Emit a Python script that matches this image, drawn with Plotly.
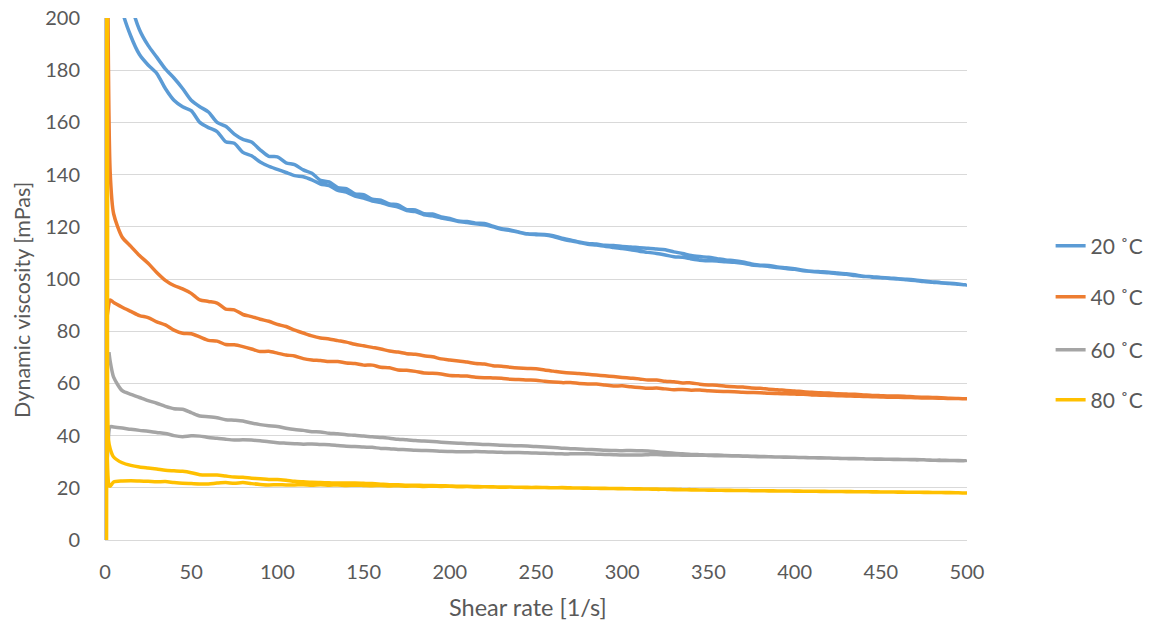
import plotly.graph_objects as go

# Shared shear-rate grid [1/s]
shear_grid = [3, 5,
              10, 15, 20, 25, 30, 35, 40, 45, 50, 55,
              60, 65, 70, 75, 80, 85, 90, 95, 100, 105,
              110, 115, 120, 125, 130, 135, 140, 145, 150, 155,
              160, 165, 170, 175, 180, 185, 190, 195, 200, 205,
              210, 215, 220, 225, 230, 235, 240, 245, 250, 255,
              260, 265, 270, 275, 280, 285, 290, 295, 300, 305,
              310, 315, 320, 325, 330, 335, 340, 345, 350, 355,
              360, 365, 370, 375, 380, 385, 390, 395, 400, 405,
              410, 415, 420, 425, 430, 435, 440, 445, 450, 455,
              460, 465, 470, 475, 480, 485, 490, 495, 500]

series_names = ["20 ˚C", "40 ˚C", "60 ˚C", "80 ˚C"]
series_colors = ["#5B9BD5", "#ED7D31", "#A5A5A5", "#FFC000"]

# ---- 20 C ----
visc_20_up = [272, 243,
              203, 193, 186, 182, 178.8, 173, 168.5, 166, 164.5, 160,
              158, 156.5, 152.6, 152, 148.5, 147.2, 144.8, 143.2, 142, 140.8,
              139.6, 139.2, 138.0, 136.4, 135.8, 134.0, 133.3, 131.8, 131.0, 129.9,
              129.3, 128.2, 127.6, 126.2, 125.8, 124.6, 124.2, 123.4, 122.8, 122.0,
              121.6, 121.2, 120.8, 120.0, 119.0, 118.6, 117.9, 117.2, 117.0, 116.9,
              116.3, 115.3, 114.6, 114.0, 113.3, 113.0, 112.5, 112.1, 111.7, 111.2,
              110.6, 110.2, 109.8, 109.2, 108.5, 108.3, 107.7, 107.2, 107.0, 106.9,
              106.6, 106.4, 106.0, 105.4, 105.1, 104.8, 104.4, 104.0, 103.7, 103.2,
              102.9, 102.6, 102.4, 102.0, 101.8, 101.3, 101.0, 100.7, 100.5, 100.2,
              100.0, 99.7, 99.4, 99.0, 98.8, 98.5, 98.3, 98.0, 97.7]
visc_20_down = [300, 262,
                226, 206, 195.5, 189.5, 185, 180.5, 177, 173, 168.5, 166,
                164, 160, 158.5, 155.5, 153.5, 152.5, 149.5, 147, 146.8, 144.5,
                143.8, 141.8, 140.5, 137.8, 137.2, 135.0, 134.6, 132.6, 132.3, 130.6,
                130.2, 128.8, 128.4, 126.6, 126.5, 125.0, 124.9, 123.8, 123.2, 122.2,
                122.0, 121.4, 121.3, 120.2, 119.3, 118.8, 118.0, 117.3, 117.2, 117.1,
                116.6, 115.6, 115.0, 114.2, 113.6, 113.4, 112.9, 112.8, 112.5, 112.3,
                112.0, 111.8, 111.5, 111.2, 110.4, 109.8, 109.0, 108.6, 108.3, 107.8,
                107.3, 107.0, 106.5, 105.8, 105.3, 105.2, 104.6, 104.3, 103.9, 103.4,
                103.0, 102.8, 102.6, 102.3, 102.0, 101.6, 101.1, 100.9, 100.6, 100.4,
                100.1, 99.9, 99.6, 99.2, 98.9, 98.6, 98.4, 98.1, 97.8]
lead_20_x, lead_20_y = [], []
tail_20_x, tail_20_y = [], []

# ---- 40 C ----
visc_40_up = [92, 91,
              89.2, 87.6, 86, 85.2, 83.6, 82.4, 80.4, 79.2, 79.0, 77.8,
              76.5, 76.2, 74.9, 74.8, 74.1, 73.2, 72.2, 72.3, 71.6, 70.9,
              70.5, 69.5, 69.0, 68.8, 68.4, 68.4, 67.8, 67.6, 67.0, 67.0,
              66.2, 66.0, 65.1, 65.0, 64.6, 64.0, 63.9, 63.6, 63.0, 62.9,
              62.8, 62.4, 62.2, 62.1, 62.0, 61.6, 61.5, 61.3, 61.2, 60.8,
              60.5, 60.3, 60.3, 60.0, 59.8, 59.8, 59.4, 59.0, 59.1, 58.7,
              58.4, 58.1, 58.2, 57.9, 57.6, 57.7, 57.4, 57.5, 57.2, 57.0,
              56.9, 56.8, 56.6, 56.5, 56.4, 56.2, 56.1, 56.0, 55.9, 55.8,
              55.6, 55.5, 55.4, 55.3, 55.2, 55.1, 55.0, 54.9, 54.8, 54.7,
              54.7, 54.6, 54.5, 54.4, 54.4, 54.3, 54.2, 54.2, 54.1]
visc_40_down = [141, 125,
                116, 112.5, 109, 106, 102.5, 99.5, 97.5, 96.2, 94.5, 92,
                91.4, 90.8, 88.5, 88.2, 86.4, 85.6, 84.6, 83.8, 82.6, 81.8,
                80.4, 79.3, 78.2, 77.4, 77.0, 76.4, 75.8, 75.0, 74.4, 73.8,
                73.2, 72.4, 72.0, 71.4, 71.2, 70.6, 70.2, 69.4, 69.0, 68.6,
                68.2, 67.6, 67.4, 66.8, 66.6, 66.2, 65.9, 65.7, 65.6, 65.1,
                64.7, 64.3, 64.0, 63.8, 63.5, 63.2, 62.9, 62.6, 62.3, 62.0,
                61.7, 61.3, 61.3, 60.8, 60.6, 60.2, 60.2, 59.7, 59.4, 59.3,
                58.9, 58.7, 58.6, 58.2, 58.1, 57.8, 57.6, 57.3, 57.1, 56.8,
                56.6, 56.4, 56.3, 56.0, 55.9, 55.8, 55.6, 55.4, 55.3, 55.2,
                55.2, 55.0, 54.8, 54.7, 54.6, 54.5, 54.3, 54.2, 54.1]
lead_40_x, lead_40_y = [0.0, 1.5], [78.5, 87.0]
tail_40_x, tail_40_y = [1.4], [240.0]

# ---- 60 C ----
visc_60_up = [43.4, 43.3,
              42.9, 42.4, 42.0, 41.7, 41.2, 40.8, 40.0, 39.6, 39.9, 39.8,
              39.3, 39.0, 38.6, 38.3, 38.4, 38.3, 38.0, 37.6, 37.3, 37.1,
              36.9, 36.7, 36.8, 36.6, 36.5, 36.2, 35.9, 35.8, 35.6, 35.5,
              35.1, 35.0, 34.7, 34.6, 34.4, 34.3, 34.2, 34.0, 33.9, 33.8,
              33.8, 33.9, 33.8, 33.7, 33.6, 33.5, 33.5, 33.4, 33.3, 33.2,
              33.1, 33.0, 33.0, 33.0, 33.0, 32.9, 32.8, 32.7, 32.6, 32.6,
              32.6, 32.7, 32.8, 32.6, 32.6, 32.5, 32.5, 32.5, 32.4, 32.3,
              32.3, 32.2, 32.1, 32.0, 31.9, 31.9, 31.8, 31.7, 31.7, 31.6,
              31.5, 31.4, 31.4, 31.3, 31.2, 31.1, 31.1, 31.0, 30.9, 30.9,
              30.8, 30.8, 30.7, 30.7, 30.6, 30.5, 30.5, 30.4, 30.4]
visc_60_down = [68.5, 62.4,
                57.2, 55.8, 54.6, 53.4, 52.4, 51.2, 50.3, 50.1, 48.8, 47.5,
                47.2, 46.8, 46.1, 45.9, 45.6, 44.8, 44.2, 43.8, 43.5, 42.8,
                42.3, 42.0, 41.5, 41.4, 40.9, 40.7, 40.3, 40.1, 39.8, 39.6,
                39.3, 39.0, 38.6, 38.4, 38.1, 37.9, 37.7, 37.5, 37.3, 37.1,
                36.9, 36.8, 36.6, 36.5, 36.3, 36.2, 36.1, 36.0, 35.8, 35.6,
                35.4, 35.2, 35.0, 34.9, 34.7, 34.6, 34.4, 34.3, 34.2, 34.3,
                34.2, 34.1, 33.8, 33.5, 33.2, 33.0, 32.8, 32.7, 32.6, 32.6,
                32.4, 32.3, 32.2, 32.1, 32.0, 31.9, 31.8, 31.8, 31.7, 31.6,
                31.5, 31.5, 31.4, 31.3, 31.2, 31.2, 31.1, 31.0, 31.0, 30.9,
                30.9, 30.8, 30.8, 30.7, 30.6, 30.6, 30.5, 30.5, 30.4]
lead_60_x, lead_60_y = [0.0, 1.5], [17.2, 33.0]
tail_60_x, tail_60_y = [2.3], [72.0]

# ---- 80 C ----
visc_80_up = [20.6, 22.2,
              22.6, 22.7, 22.6, 22.5, 22.3, 22.4, 22.0, 21.7, 21.6, 21.5,
              21.5, 21.8, 22.0, 21.7, 22.0, 21.6, 21.3, 21.1, 21.2, 21.1,
              21.1, 21.2, 21.0, 21.2, 21.0, 21.1, 20.9, 21.0, 20.9, 20.8,
              20.9, 20.7, 20.8, 20.6, 20.7, 20.5, 20.6, 20.5, 20.6, 20.4,
              20.5, 20.3, 20.4, 20.3, 20.2, 20.3, 20.2, 20.1, 20.2, 20.1,
              20.0, 20.1, 20.0, 19.9, 19.9, 19.8, 19.8, 19.7, 19.7, 19.6,
              19.6, 19.5, 19.5, 19.4, 19.4, 19.3, 19.3, 19.2, 19.2, 19.1,
              19.1, 19.0, 19.0, 18.9, 18.9, 18.9, 18.8, 18.8, 18.8, 18.7,
              18.7, 18.7, 18.6, 18.6, 18.6, 18.5, 18.5, 18.5, 18.4, 18.4,
              18.4, 18.3, 18.3, 18.3, 18.2, 18.2, 18.2, 18.1, 18.0]
visc_80_down = [35.0, 31.8,
                29.6, 28.6, 28.0, 27.6, 27.2, 26.7, 26.5, 26.3, 25.8, 25.0,
                24.9, 24.9, 24.5, 24.1, 24.0, 23.7, 23.5, 23.2, 23.2, 22.9,
                22.5, 22.3, 22.1, 22.0, 21.9, 21.8, 21.8, 21.8, 21.7, 21.6,
                21.4, 21.2, 21.2, 21.0, 21.0, 20.9, 20.9, 20.8, 20.7, 20.6,
                20.6, 20.5, 20.4, 20.4, 20.3, 20.3, 20.2, 20.2, 20.1, 20.1,
                20.0, 20.0, 19.9, 19.9, 19.8, 19.8, 19.7, 19.7, 19.6, 19.6,
                19.5, 19.5, 19.4, 19.4, 19.3, 19.3, 19.2, 19.2, 19.1, 19.1,
                19.0, 19.0, 19.0, 18.9, 18.9, 18.8, 18.8, 18.8, 18.7, 18.7,
                18.7, 18.6, 18.6, 18.6, 18.5, 18.5, 18.5, 18.4, 18.4, 18.4,
                18.3, 18.3, 18.3, 18.2, 18.2, 18.2, 18.1, 18.1, 18.0]
lead_80_x, lead_80_y = [0.9, 1.2, 1.5, 2.3], [0.0, 150.0, 300.0, 21.0]
tail_80_x, tail_80_y = [2.0, 1.5, 1.3], [38.5, 120.0, 260.0]

x_ticks = [0, 50, 100, 150, 200, 250, 300, 350, 400, 450, 500]
y_ticks = [0, 20, 40, 60, 80, 100, 120, 140, 160, 180, 200]

ups = [visc_20_up, visc_40_up, visc_60_up, visc_80_up]
downs = [visc_20_down, visc_40_down, visc_60_down, visc_80_down]
leads = [(lead_20_x, lead_20_y), (lead_40_x, lead_40_y), (lead_60_x, lead_60_y), (lead_80_x, lead_80_y)]
tails = [(tail_20_x, tail_20_y), (tail_40_x, tail_40_y), (tail_60_x, tail_60_y), (tail_80_x, tail_80_y)]

FONT = "Lato"
TXT = "#595959"

fig = go.Figure()
legend_names = ["legend", "legend2", "legend3", "legend4"]
for i in range(4):
    xs = leads[i][0] + shear_grid + shear_grid[::-1][1:] + tails[i][0]
    ys = leads[i][1] + ups[i] + downs[i][::-1][1:] + tails[i][1]
    fig.add_trace(go.Scatter(
        x=xs, y=ys, mode="lines", name=series_names[i],
        line=dict(color=series_colors[i], width=3.5, shape="spline", smoothing=0.7),
        legend=legend_names[i],
    ))

legend_y = [0.563, 0.4655, 0.364, 0.268]
layout_legends = {}
for i, ln in enumerate(legend_names):
    layout_legends[ln] = dict(
        x=1.097, y=legend_y[i], xanchor="left", yanchor="middle",
        font=dict(family=FONT, size=21, color=TXT),
        bgcolor="rgba(0,0,0,0)", borderwidth=0,
    )

fig.update_layout(
    width=1149, height=630,
    margin=dict(l=105, r=182, t=18, b=90, autoexpand=False),
    plot_bgcolor="white", paper_bgcolor="white",
    font=dict(family=FONT, size=21, color=TXT),
    showlegend=True,
    annotations=[
        dict(text="Dynamic viscosity [mPas]", xref="paper", yref="paper",
             x=-0.0963, y=0.4598, xanchor="center", yanchor="middle",
             textangle=-90, showarrow=False,
             font=dict(family=FONT, size=21.5, color=TXT)),
        dict(text="Shear rate [1/s]", xref="paper", yref="paper",
             x=0.4907, y=-0.1284, xanchor="center", yanchor="middle",
             showarrow=False, font=dict(family=FONT, size=23.5, color=TXT)),
    ],
    **layout_legends,
)
fig.update_xaxes(
    range=[0, 500], tickvals=x_ticks, ticktext=[str(v) for v in x_ticks],
    showgrid=False, zeroline=False, showline=False, automargin=False,
    ticks="", ticklabelstandoff=18, ticklabeloverflow="allow",
    tickfont=dict(family=FONT, size=20, color=TXT),
)
fig.update_yaxes(
    range=[0, 200], tickvals=y_ticks, ticktext=[str(v) for v in y_ticks],
    showgrid=True, gridcolor="#D9D9D9", gridwidth=1,
    zeroline=True, zerolinecolor="#D9D9D9", zerolinewidth=1,
    showline=True, linecolor="#BFBFBF", linewidth=1, automargin=False,
    ticks="", ticklabelstandoff=20, ticklabeloverflow="allow",
    tickfont=dict(family=FONT, size=20, color=TXT),
)

# remove the default page margin so the figure sits at the window's top-left
fig.write_html("out.html",
               config={"displayModeBar": False},
               post_script="document.body.style.margin='0';document.body.style.overflow='hidden';")
